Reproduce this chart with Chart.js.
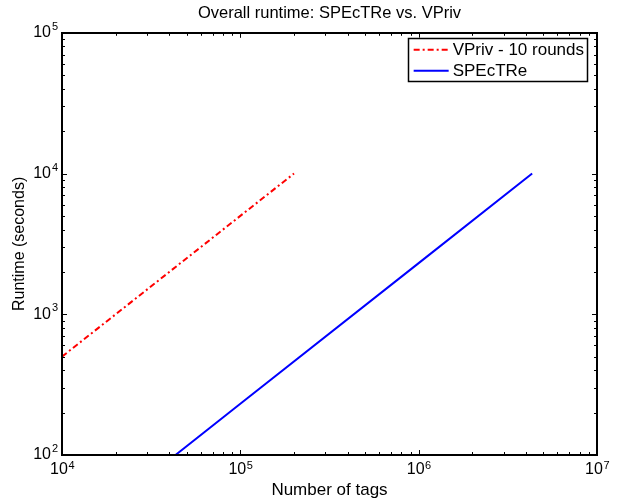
<!DOCTYPE html>
<html>
<head>
<meta charset="utf-8">
<script src="https://cdn.jsdelivr.net/npm/chart.js@4/dist/chart.umd.min.js"></script>
<style>
  html, body { margin: 0; padding: 0; background: #fff; }
  #wrap { width: 618px; height: 500px; }
</style>
</head>
<body>
<div id="wrap"><canvas id="chartRuntime"></canvas></div>
<script>
// data
const vprivTags = [10000, 100000, 200000];
const vprivRuntime = [500, 5000, 10000];
const spectreTags = [43300, 100000, 1000000, 4330000];
const spectreRuntime = [100, 231, 2310, 10000];

// tick labels are 10^n: base text from the axis, exponent drawn raised
const xTickValues = [1e4, 1e5, 1e6, 1e7];
const xTickExps = ['4', '5', '6', '7'];
const yTickValues = [1e2, 1e3, 1e4, 1e5];
const yTickExps = ['2', '3', '4', '5'];
const tickBase = '10';

const fontFam = "'Liberation Sans', Arial, Helvetica, sans-serif";

const toPoints = (xs, ys) => xs.map((x, i) => ({ x: x, y: ys[i] }));

// minor ticks 2..9 in every decade of a log axis
function minorValues(min, max) {
    const out = [];
    for (let d = min; d < max; d *= 10) {
        for (let k = 2; k <= 9; k++) out.push(d * k);
    }
    return out;
}

const boxTicks = {
    id: 'boxTicks',
    afterDraw(chart) {
        const { ctx, chartArea: a, scales } = chart;
        const sx = scales.x, sy = scales.y;
        ctx.save();
        ctx.strokeStyle = '#000';
        ctx.lineWidth = 1;
        ctx.beginPath();
        const mark = (v, len, horiz) => {
            if (horiz) {
                const p = Math.round(sx.getPixelForValue(v)) + 0.5;
                ctx.moveTo(p, a.bottom); ctx.lineTo(p, a.bottom - len);
                ctx.moveTo(p, a.top); ctx.lineTo(p, a.top + len);
            } else {
                const p = Math.round(sy.getPixelForValue(v)) + 0.5;
                ctx.moveTo(a.left, p); ctx.lineTo(a.left + len, p);
                ctx.moveTo(a.right, p); ctx.lineTo(a.right - len, p);
            }
        };
        xTickValues.forEach(v => mark(v, 5, true));
        minorValues(sx.min, sx.max).forEach(v => mark(v, 3, true));
        yTickValues.forEach(v => mark(v, 5, false));
        minorValues(sy.min, sy.max).forEach(v => mark(v, 3, false));
        ctx.stroke();
        ctx.lineWidth = 2;
        ctx.strokeRect(Math.round(a.left), Math.round(a.top),
            Math.round(a.right - a.left), Math.round(a.bottom - a.top));

        // exponents of the decade labels
        ctx.font = '16px ' + fontFam;
        const baseW = ctx.measureText(tickBase).width;
        ctx.font = '11px ' + fontFam;
        ctx.fillStyle = '#000';
        ctx.textAlign = 'left';
        ctx.textBaseline = 'alphabetic';
        xTickValues.forEach((v, i) => {
            const p = sx.getPixelForValue(v) - 3;
            ctx.fillText(xTickExps[i], p + baseW / 2 + 0.5, a.bottom + 13.5);
        });
        yTickValues.forEach((v, i) => {
            const p = sy.getPixelForValue(v);
            ctx.fillText(yTickExps[i], a.left - 10, p - 3);
        });
        ctx.restore();
    }
};

// boxed legend in the top right corner, MATLAB style
const boxLegend = {
    id: 'boxLegend',
    afterDraw(chart) {
        const { ctx, chartArea: a } = chart;
        const sets = chart.data.datasets;
        ctx.save();
        ctx.font = '17px ' + fontFam;
        const textW = Math.max(...sets.map(d => ctx.measureText(d.label).width));
        const lineLen = 35, rowH = 21;
        const w = 6 + lineLen + 4 + textW + 3;
        const h = sets.length * rowH + 1;
        const right = a.right - 10, top = a.top + 5;
        const left = right - w;
        ctx.fillStyle = '#fff';
        ctx.fillRect(left, top, w, h);
        ctx.strokeStyle = '#000';
        ctx.lineWidth = 1.5;
        ctx.strokeRect(Math.round(left) + 0.5, Math.round(top) + 0.5, Math.round(w), Math.round(h));
        sets.forEach((d, i) => {
            const cy = top + 12 + i * rowH;
            ctx.beginPath();
            ctx.strokeStyle = d.borderColor;
            ctx.lineWidth = d.borderWidth;
            ctx.setLineDash(d.borderDash || []);
            ctx.moveTo(left + 6, cy);
            ctx.lineTo(left + 6 + lineLen, cy);
            ctx.stroke();
            ctx.setLineDash([]);
            ctx.fillStyle = '#000';
            ctx.textBaseline = 'middle';
            ctx.fillText(d.label, left + 6 + lineLen + 4, cy + 1);
        });
        ctx.restore();
    }
};

new Chart(document.getElementById('chartRuntime').getContext('2d'), {
    type: 'line',
    data: {
        datasets: [
            {
                label: 'VPriv - 10 rounds', data: toPoints(vprivTags, vprivRuntime),
                borderColor: '#ff0000', borderWidth: 2, borderDash: [6, 3, 2, 3],
                pointRadius: 0, tension: 0, fill: false
            },
            {
                label: 'SPEcTRe', data: toPoints(spectreTags, spectreRuntime),
                borderColor: '#0000ff', borderWidth: 2,
                pointRadius: 0, tension: 0, fill: false
            }
        ]
    },
    options: {
        responsive: true, maintainAspectRatio: false, animation: false,
        layout: { padding: { left: 0, right: 21, top: 0, bottom: 0 } },
        plugins: {
            legend: { display: false },
            tooltip: { enabled: false },
            title: {
                display: true, fullSize: false, text: 'Overall runtime: SPEcTRe vs. VPriv',
                color: '#000', font: { family: fontFam, size: 16.5, weight: 'normal' },
                padding: { top: 4, bottom: 9 }
            }
        },
        scales: {
            x: {
                type: 'logarithmic', min: 1e4, max: 1e7,
                grid: { display: false, drawTicks: false }, border: { display: false },
                ticks: {
                    autoSkip: false, maxRotation: 0, padding: 5, labelOffset: -3, color: '#000',
                    font: { family: fontFam, size: 16 },
                    callback: () => tickBase
                },
                title: {
                    display: true, text: 'Number of tags', color: '#000',
                    font: { family: fontFam, size: 17 }, padding: { top: 0, bottom: -1 }
                },
                afterBuildTicks: s => { s.ticks = xTickValues.map(v => ({ value: v })); },
                afterFit: s => { s.height = 45; }
            },
            y: {
                type: 'logarithmic', min: 1e2, max: 1e5,
                grid: { display: false, drawTicks: false }, border: { display: false },
                ticks: {
                    autoSkip: false, padding: 11, color: '#000',
                    font: { family: fontFam, size: 16 },
                    callback: () => tickBase
                },
                title: {
                    display: true, text: 'Runtime (seconds)', color: '#000',
                    font: { family: fontFam, size: 16 }, padding: { top: 10, bottom: 0 }
                },
                afterBuildTicks: s => { s.ticks = yTickValues.map(v => ({ value: v })); },
                afterFit: s => { s.width = 62; }
            }
        }
    },
    plugins: [boxTicks, boxLegend]
});
</script>
</body>
</html>
